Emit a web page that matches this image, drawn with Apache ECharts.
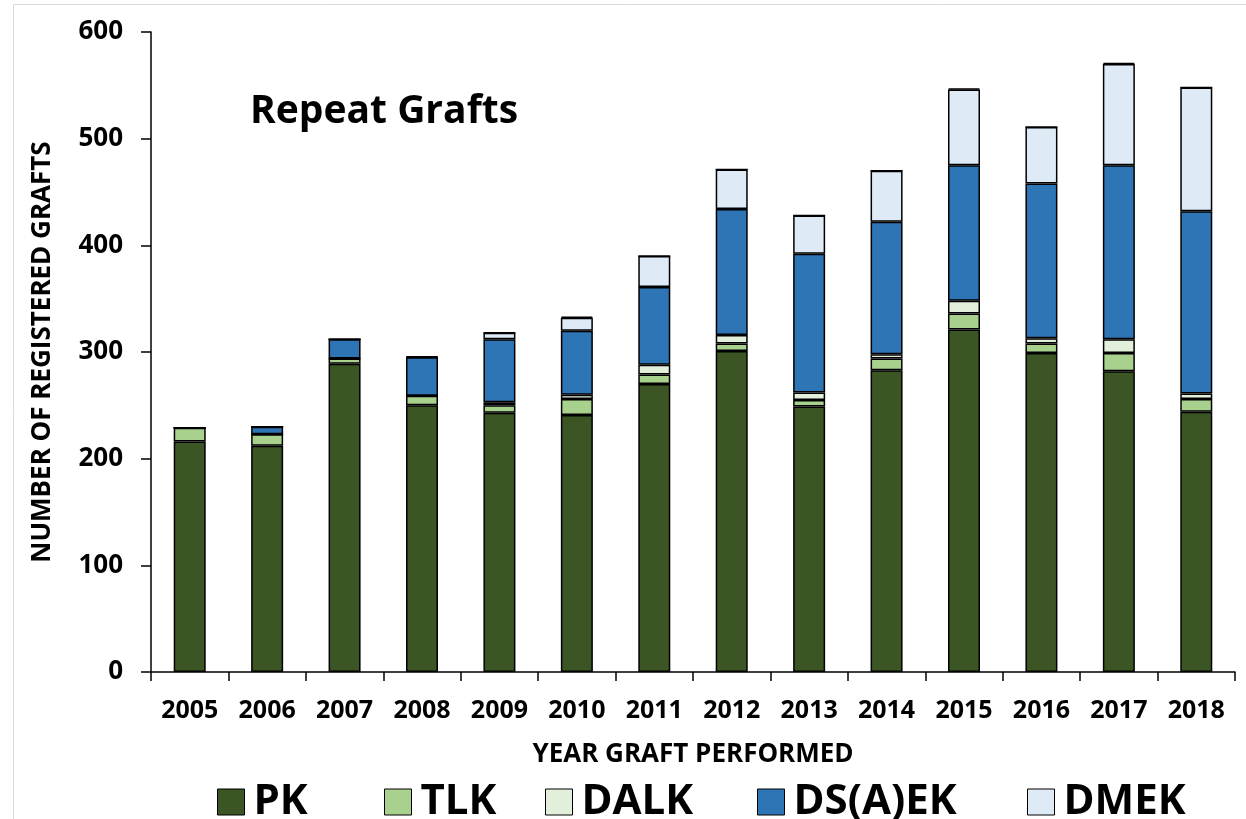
<!DOCTYPE html>
<html>
<head>
<meta charset="utf-8">
<script src="https://cdn.jsdelivr.net/npm/echarts@6/dist/echarts.min.js"></script>
<style>
html,body{margin:0;padding:0;background:#fff;}
#chart{width:1246px;height:819px;}
</style>
</head>
<body>
<div id="chart"></div>
<script>
const years = ['2005','2006','2007','2008','2009','2010','2011','2012','2013','2014','2015','2016','2017','2018'];
const pk    = [216, 212, 289, 250, 243, 241, 270, 301, 249, 283, 321, 299, 282, 244];
const tlk   = [13, 11, 5, 9, 7, 15, 9, 7, 6, 11, 15, 9, 17, 12];
const dalk  = [0, 0, 0, 0, 3, 4, 9, 8, 7, 4, 12, 5, 13, 5];
const dsaek = [0, 7, 18, 36, 59, 60, 73, 118, 130, 124, 127, 145, 163, 171];
const dmek  = [0, 0, 0, 0, 6, 12, 29, 37, 36, 48, 71, 53, 95, 116];
const other = [0, 0, 0, 1, 0, 1, 0, 0, 0, 0, 1, 0, 1, 0];
const yTicks = [0, 100, 200, 300, 400, 500, 600];

const FONT = 'Open Sans';
const seriesDefs = [
  {name:'PK', data:pk, color:'#3b5524'},
  {name:'TLK', data:tlk, color:'#a9d18e'},
  {name:'DALK', data:dalk, color:'#e2efda'},
  {name:'DS(A)EK', data:dsaek, color:'#2e75b6'},
  {name:'DMEK', data:dmek, color:'#deebf7'},
  {name:'Other', data:other, color:'#000000'}
];
const legendLefts = [212, 379, 540, 752, 1022];

const chart = echarts.init(document.getElementById('chart'));
chart.setOption({
  backgroundColor:'#fff',
  animation:false,
  textStyle:{fontFamily:FONT},
  title:{
    text:'Repeat Grafts',
    left:245, top:87,
    textStyle:{fontFamily:FONT, fontWeight:'bold', fontSize:39, color:'#000'}
  },
  graphic:[{
    type:'rect', shape:{x:13.5, y:4.5, width:1400, height:1000},
    style:{fill:'none', stroke:'#d9d9d9', lineWidth:1}, silent:true
  }],
  legend: seriesDefs.slice(0,5).map((s,i)=>({
    data:[s.name], left:legendLefts[i], top:776,
    itemWidth:27, itemHeight:26, icon:'rect',
    itemStyle:{borderColor:'#000', borderWidth:1},
    textStyle:{fontFamily:FONT, fontWeight:'bold', fontSize:42, color:'#000', padding:[0,0,0,4]}
  })),
  grid:{left:151, right:11, top:32, bottom:147, containLabel:false},
  xAxis:{
    type:'category', data:years,
    name:'YEAR GRAFT PERFORMED', nameLocation:'middle', nameGap:70,
    nameTextStyle:{fontFamily:FONT, fontWeight:'bold', fontSize:26, color:'#000'},
    axisLine:{lineStyle:{color:'#000', width:1.5}},
    axisTick:{show:true, inside:false, length:9, lineStyle:{color:'#000', width:1.5}},
    axisLabel:{fontFamily:FONT, fontWeight:'bold', fontSize:25, color:'#000', margin:26, interval:0}
  },
  yAxis:{
    type:'value', min:yTicks[0], max:yTicks[yTicks.length-1], interval:100,
    name:'NUMBER OF REGISTERED GRAFTS', nameLocation:'middle', nameGap:95,
    nameTextStyle:{fontFamily:FONT, fontWeight:'bold', fontSize:26, color:'#000'},
    axisLine:{show:true, lineStyle:{color:'#000', width:1.5}},
    axisTick:{show:true, inside:false, length:10, lineStyle:{color:'#000', width:1.5}},
    splitLine:{show:false},
    axisLabel:{fontFamily:FONT, fontWeight:'bold', fontSize:26, color:'#000', margin:28}
  },
  series: seriesDefs.map(s=>({
    name:s.name, type:'bar', stack:'total', data:s.data, barWidth:32,
    itemStyle:{color:s.color, borderColor:'#000', borderWidth:1.5},
    emphasis:{disabled:true}
  }))
});
</script>
</body>
</html>
